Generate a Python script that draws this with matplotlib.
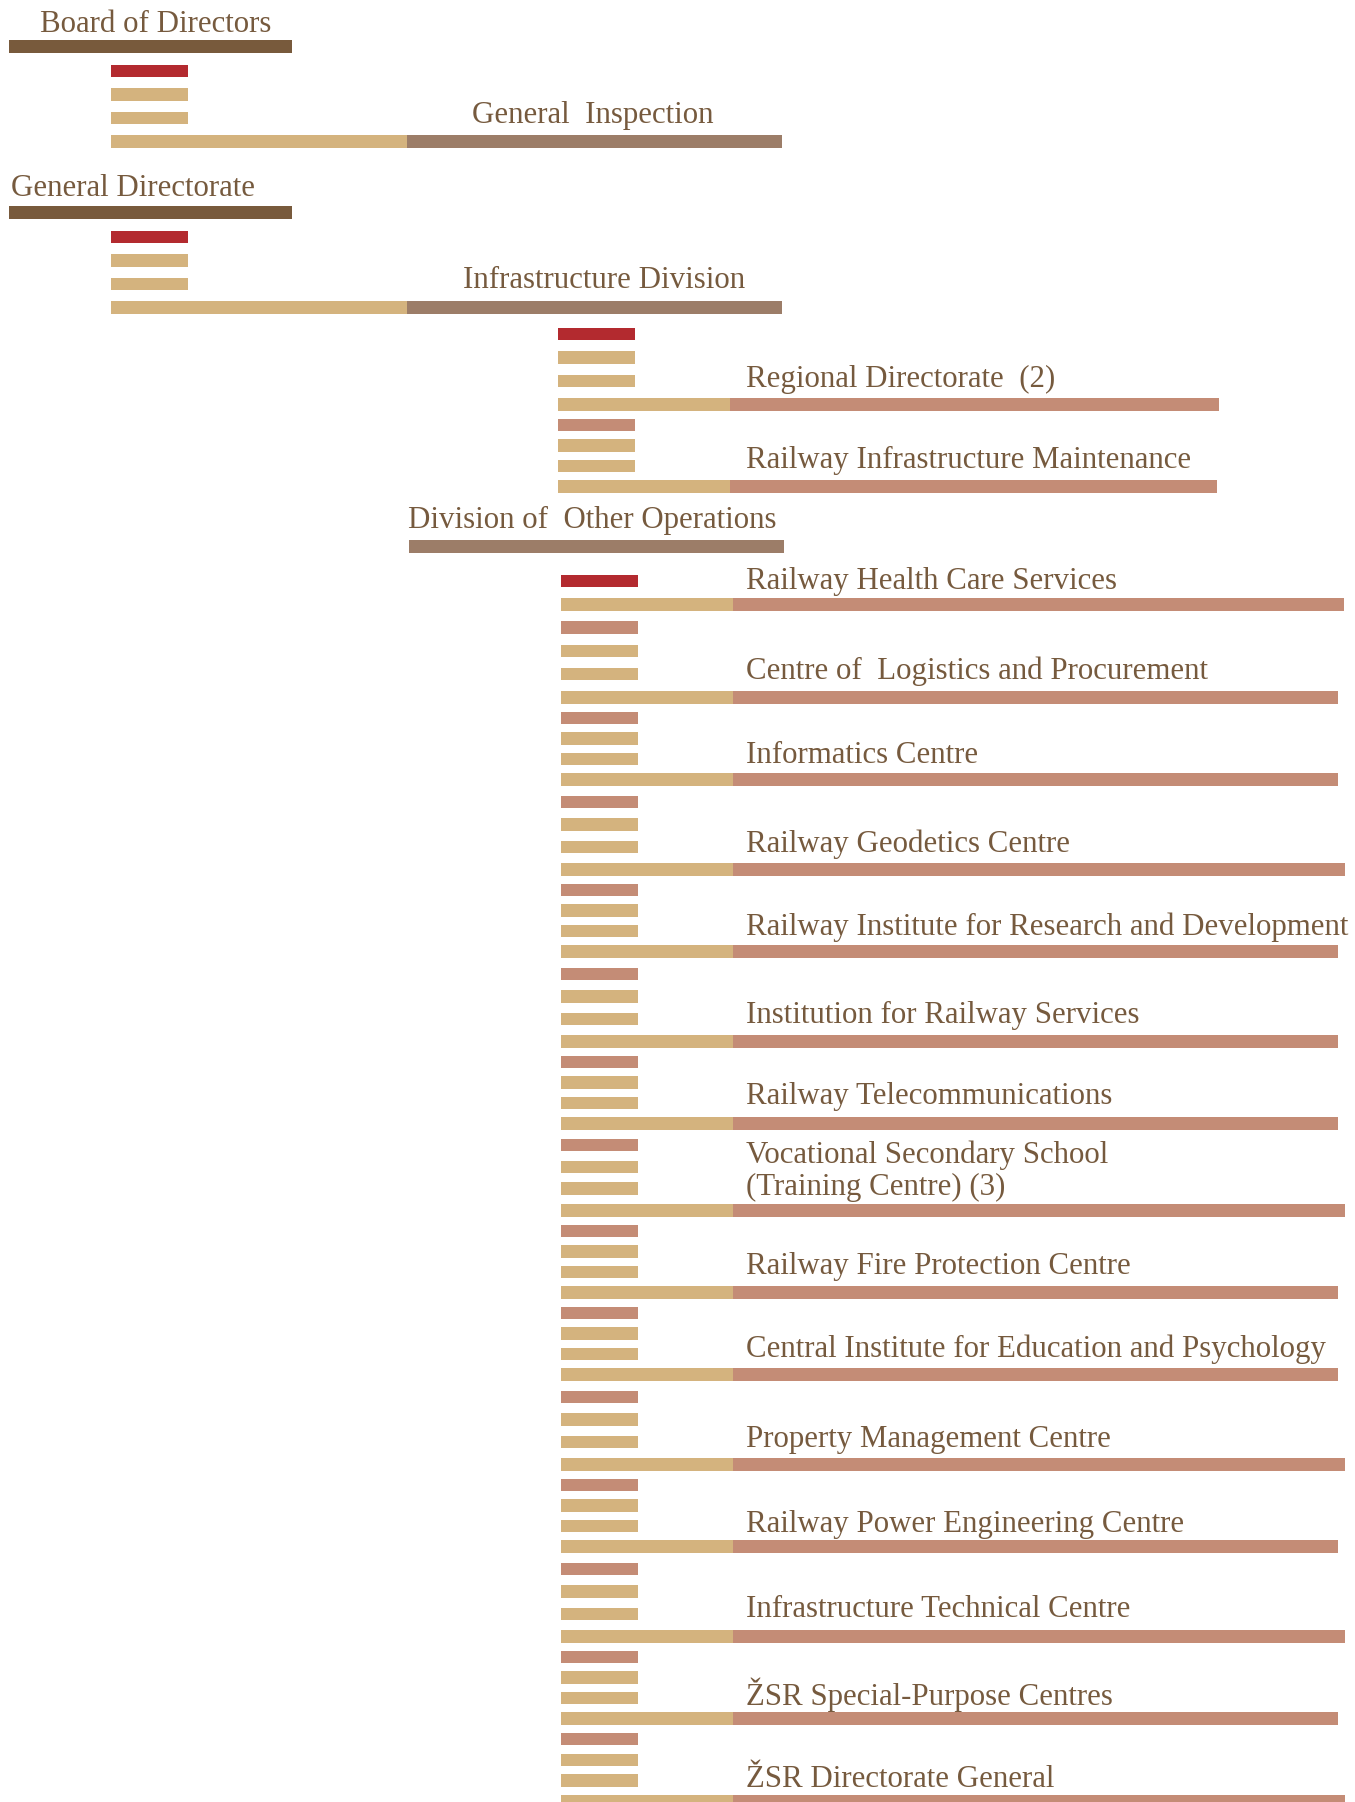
import matplotlib.pyplot as plt

# ---- data ----
top_units = ["Board of Directors", "General Directorate"]
top_children = ["General  Inspection", "Infrastructure Division"]
infra_units = ["Regional Directorate  (2)", "Railway Infrastructure Maintenance"]
division = "Division of  Other Operations"
other_units = [
    "Railway Health Care Services",
    "Centre of  Logistics and Procurement",
    "Informatics Centre",
    "Railway Geodetics Centre",
    "Railway Institute for Research and Development",
    "Institution for Railway Services",
    "Railway Telecommunications",
    "Vocational Secondary School\n(Training Centre) (3)",
    "Railway Fire Protection Centre",
    "Central Institute for Education and Psychology",
    "Property Management Centre",
    "Railway Power Engineering Centre",
    "Infrastructure Technical Centre",
    "ŽSR Special-Purpose Centres",
    "ŽSR Directorate General",
]
# right end of each unit bar
infra_ends = [1219, 1217]
other_ends = [1344, 1338, 1338, 1345, 1338, 1338, 1338, 1345,
              1338, 1338, 1345, 1338, 1345, 1338, 1345]

# ---- layout (pixel space, y down) ----
header_rows = [40, 206]
child_rows = [135, 301]
infra_rows = [398, 480]
div_row = 540
other_rows = [598, 691, 773, 863, 945, 1035, 1117, 1204,
              1286, 1368, 1458, 1540, 1630, 1712, 1795]
# label baseline offsets above their bar
header_lift = [8, 10]
child_lift = [12, 13]
infra_lift = [11, 12]
other_lift = [9, 12, 10, 11, 10, 12, 13, 9, 12, 11, 11, 8, 13, 7, 8]

DARK = '#785a3c'
TEXT = '#765a3e'
RED = '#b32a2f'
TAN = '#d4b37e'
MID = '#9c7d68'
PINK = '#c48c76'
H = 12.7
FONT = dict(family='Liberation Serif', size=22.2, color=TEXT, va='baseline')

fig = plt.figure(figsize=(13.55, 18.02), dpi=100)
ax = fig.add_axes([0, 0, 1, 1])
ax.set_xlim(0, 1355)
ax.set_ylim(1802, 0)
ax.axis('off')


def bar(y, x0, x1, color):
    ax.barh(y, x1 - x0, left=x0, height=H, align='edge', color=color, linewidth=0)


def unit(y, prev, x0, tan_w, end, color, first_color, n=3):
    step = min((y - prev) / (n + 1), 23.5)
    for k in range(1, n + 1):
        c = first_color if k == n else TAN
        bar(y - k * step, x0, x0 + 77, c)
    bar(y, x0, x0 + tan_w, TAN)
    bar(y, x0 + tan_w, end, color)


# top: board / general directorate
for i, name in enumerate(top_units):
    bar(header_rows[i], 9, 292, DARK)
    ax.text([40, 11][i], header_rows[i] - header_lift[i], name, **FONT)
    unit(child_rows[i], header_rows[i], 111, 296, 782, MID, RED)
    ax.text([472, 463][i], child_rows[i] - child_lift[i], top_children[i], **FONT)

# infrastructure division units
prev = child_rows[1]
for i, name in enumerate(infra_units):
    unit(infra_rows[i], prev, 558, 172, infra_ends[i], PINK, RED if i == 0 else PINK)
    ax.text(746, infra_rows[i] - infra_lift[i], name, **FONT)
    prev = infra_rows[i]

# division of other operations
bar(div_row, 409, 784, MID)
ax.text(408, div_row - 12, division, **FONT)

prev = div_row
for i, name in enumerate(other_units):
    y = other_rows[i]
    if i == 0:
        unit(y, prev, 561, 172, other_ends[i], PINK, RED, n=1)
    else:
        unit(y, prev, 561, 172, other_ends[i], PINK, PINK)
    lines = name.split('\n')
    for j, ln in enumerate(reversed(lines)):
        ax.text(746, y - other_lift[i] - j * 32.3, ln, **FONT)
    prev = y

fig.savefig('out.png', dpi=100)
